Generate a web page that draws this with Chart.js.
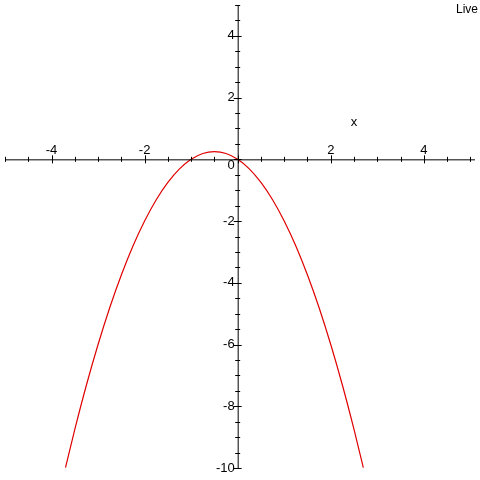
<!DOCTYPE html>
<html><head><meta charset="utf-8">
<script src="https://cdn.jsdelivr.net/npm/chart.js@4/dist/chart.umd.min.js"></script>
<style>html,body{margin:0;padding:0;background:#fff}#c{display:block}</style>
</head><body>
<canvas id="c" width="480" height="480"></canvas>
<script>
const xValues = [-3.7,-3.5,-3.25,-3,-2.75,-2.5,-2.25,-2,-1.75,-1.5,-1.25,-1,-0.75,-0.5,-0.25,0,0.25,0.5,0.75,1,1.25,1.5,1.75,2,2.25,2.5,2.7];
const yValues = [-9.99,-8.75,-7.31,-6,-4.81,-3.75,-2.81,-2,-1.31,-0.75,-0.31,0,0.19,0.25,0.19,0,-0.31,-0.75,-1.31,-2,-2.81,-3.75,-4.81,-6,-7.31,-8.75,-9.99];
const xTickLabels = [-4,-2,2,4];
const yTickLabels = [4,2,0,-2,-4,-6,-8,-10];

const axesPlugin = {
  id:'axesDraw',
  afterDatasetsDraw(chart){
    const ctx = chart.ctx, xs = chart.scales.x, ys = chart.scales.y;
    const x0 = xs.getPixelForValue(0), y0 = ys.getPixelForValue(0);
    ctx.save();
    ctx.strokeStyle='#000'; ctx.lineWidth=1;
    ctx.beginPath();
    ctx.moveTo(chart.chartArea.left, y0+0.5); ctx.lineTo(chart.chartArea.right, y0+0.5);
    ctx.moveTo(x0+0.5, chart.chartArea.top); ctx.lineTo(x0+0.5, chart.chartArea.bottom);
    for(let v=-5; v<=5.01; v+=0.5){
      const p = Math.round(xs.getPixelForValue(v))+0.5;
      const L = Math.abs(v%2)<1e-6 ? 4 : 2.5;
      ctx.moveTo(p, y0-L); ctx.lineTo(p, y0+L);
    }
    for(let v=-10; v<=5.01; v+=0.5){
      const p = Math.round(ys.getPixelForValue(v))+0.5;
      const L = Math.abs(v%2)<1e-6 ? 4 : 2.5;
      ctx.moveTo(x0-L, p); ctx.lineTo(x0+L, p);
    }
    ctx.stroke();
    ctx.fillStyle='#000'; ctx.font='13px "Liberation Sans", Arial';
    ctx.textAlign='center'; ctx.textBaseline='bottom';
    xTickLabels.forEach(v=>ctx.fillText(String(v), xs.getPixelForValue(v), y0-2));
    ctx.textAlign='right'; ctx.textBaseline='middle';
    yTickLabels.forEach(v=>ctx.fillText(String(v), x0-3, ys.getPixelForValue(v)+(v===0?6:0)));
    ctx.textAlign='center';
    ctx.fillText('x', xs.getPixelForValue(2.5), ys.getPixelForValue(1.2));
    ctx.font='12px "Liberation Sans", Arial'; ctx.textAlign='right'; ctx.textBaseline='top';
    ctx.fillText('Live', 478, 4);
    ctx.restore();
  }
};

new Chart(document.getElementById('c'), {
  type:'line',
  data:{datasets:[{data:xValues.map((x,i)=>({x, y:yValues[i]})), borderColor:'#e00000', borderWidth:1.2, pointRadius:0, cubicInterpolationMode:'monotone', fill:false}]},
  options:{
    responsive:false, animation:false,
    layout:{padding:{left:5,right:5,top:5,bottom:12}},
    plugins:{legend:{display:false}, tooltip:{enabled:false}},
    scales:{
      x:{type:'linear', min:-5, max:5.1, display:false},
      y:{type:'linear', min:-10, max:5, display:false}
    }
  },
  plugins:[axesPlugin]
});
</script>
</body></html>
